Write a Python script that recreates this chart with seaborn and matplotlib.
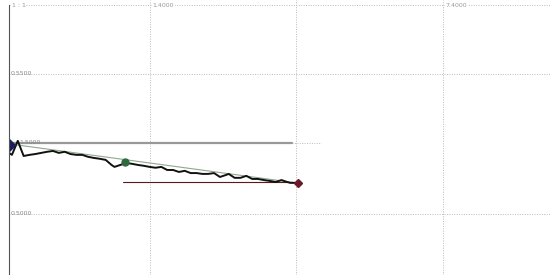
import numpy as np
import pandas as pd
import matplotlib
matplotlib.use("Agg")
import matplotlib.pyplot as plt
import seaborn as sns

# ---- data ----
x_vals = [2, 3, 5, 7, 9, 11, 13, 15, 17, 19, 21, 23, 25, 27, 29, 31, 33, 35, 37, 38,
          40, 42, 44, 46, 48, 50, 52, 54, 56, 58, 60, 62, 64, 66, 68, 70, 72, 74, 76, 77,
          79, 81, 83, 85, 87, 89, 91, 93, 95, 97, 98, 100]
y_vals = [0.5218, 0.5211, 0.5261, 0.5207, 0.5211, 0.5214, 0.5218, 0.5222, 0.5225, 0.5218,
          0.5222, 0.5214, 0.5211, 0.5211, 0.5204, 0.5200, 0.5197, 0.5193, 0.5175, 0.5168,
          0.5175, 0.5182, 0.5179, 0.5175, 0.5172, 0.5168, 0.5165, 0.5168, 0.5157, 0.5157,
          0.5150, 0.5154, 0.5146, 0.5146, 0.5143, 0.5143, 0.5146, 0.5132, 0.5139, 0.5143,
          0.5129, 0.5129, 0.5136, 0.5125, 0.5125, 0.5121, 0.5118, 0.5114, 0.5121, 0.5114,
          0.5111, 0.5111]
trend_x = [5, 100]
trend_y = [0.5246, 0.5111]
upper_level = 0.5254
upper_span = [2, 98.5]
lower_level = 0.5114
lower_span = [41, 100]
start_pt = (2, 0.5246)
mid_pt = (41.5, 0.5186)
end_pt = (100.5, 0.5111)
y_ticks = [0.50, 0.55]
y_tick_labels = ["0.5000", "0.5500"]
x_grid = [50, 100, 150]
top_labels = ["1.4000", "7.4000"]

df = pd.DataFrame({"x": x_vals, "y": y_vals})

sns.set_style("white")
fig = plt.figure(figsize=(5.51, 2.75), dpi=100)
ax = fig.add_axes([9 / 551, 0, 1 - 9 / 551, 1])

ax.set_xlim(2, 187)
ax.set_ylim(0.4782, 0.5764)

grid_kw = dict(color="#bbbbbb", lw=0.7, ls=(0, (1, 1.5)), zorder=0)
for g in x_grid:
    ax.axvline(g, **grid_kw)
for t in y_ticks:
    ax.axhline(t, **grid_kw)
ax.axhline(0.5746, **grid_kw)

# horizontal levels
ax.plot(upper_span, [upper_level, upper_level], color="#999999", lw=1.6, zorder=2)
ax.plot([upper_span[1], 108], [upper_level, upper_level], color="#bbbbbb", lw=0.7,
        ls=(0, (1, 1.5)), zorder=1)
ax.plot(lower_span, [lower_level, lower_level], color="#5a1a1a", lw=0.8, zorder=2)

# trend line
ax.plot(trend_x, trend_y, color="#8fa88f", lw=0.8, zorder=3)

sns.lineplot(data=df, x="x", y="y", ax=ax, color="#111111", lw=1.4, zorder=4)

ax.plot(*start_pt, marker="D", ms=6.5, color="#1a1f5a", clip_on=True, zorder=5)
ax.plot(*mid_pt, marker="o", ms=5, color="#2f6a3f", zorder=5)
ax.plot(*end_pt, marker="D", ms=4.5, color="#6a1a2a", zorder=5)

for t, lab in zip(y_ticks, y_tick_labels):
    ax.text(2.6, t, lab, fontsize=4.5, color="#888888", va="center", ha="left")
ax.text(5.5, upper_level, "1.5000", fontsize=4.5, color="#888888", va="center", ha="left")
ax.text(51, 0.5746, top_labels[0], fontsize=4.5, color="#999999", va="center", ha="left",
        bbox=dict(fc="white", ec="none", pad=0.5))
ax.text(151, 0.5746, top_labels[1], fontsize=4.5, color="#999999", va="center", ha="left",
        bbox=dict(fc="white", ec="none", pad=0.5))
ax.text(3, 0.5746, "1 : 1", fontsize=4.5, color="#999999", va="center", ha="left",
        bbox=dict(fc="white", ec="none", pad=0.5))

ax.set_xlabel("")
ax.set_ylabel("")
ax.set_xticks([])
ax.set_yticks([])
for s in ["top", "right", "bottom"]:
    ax.spines[s].set_visible(False)
ax.spines["left"].set_color("#555555")
ax.spines["left"].set_linewidth(0.8)
ax.spines["left"].set_zorder(6)
ax.spines["left"].set_bounds(0.4782, 0.5746)

fig.savefig("out.png", dpi=100)
